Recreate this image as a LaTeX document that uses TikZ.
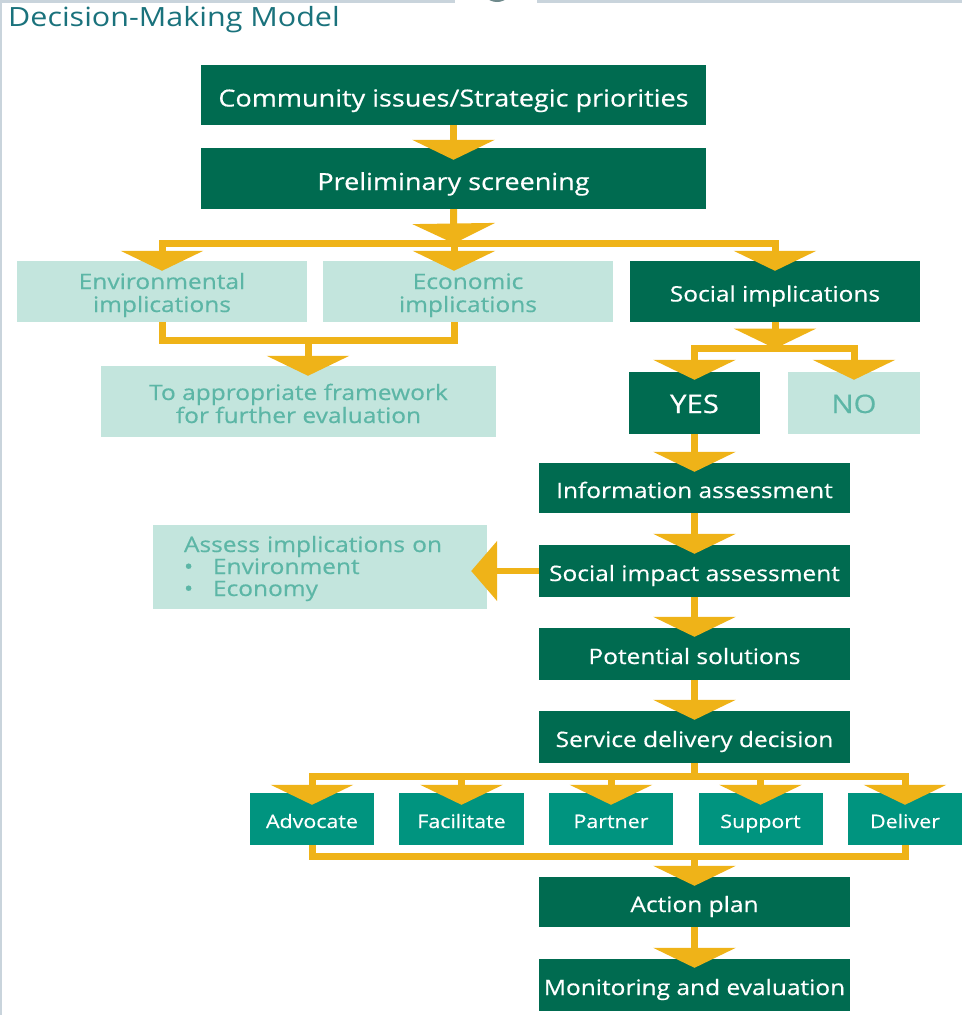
\documentclass[tikz,border=0pt]{standalone}
\usepackage{fontspec}
\setmainfont{Open Sans}[FakeStretch=1.15]
\newfontfamily\heavyfont{Open Sans}[FakeStretch=1.15,FakeBold=0.5]
\usepackage{xcolor}
\usepackage{tikz}
\usetikzlibrary{calc}
\usetikzlibrary{arrows.meta}
\usetikzlibrary{positioning}

\definecolor{deepgreen}{HTML}{006B50}
\definecolor{midteal}{HTML}{00947F}
\definecolor{mint}{HTML}{C3E5DD}
\definecolor{minttext}{HTML}{5CB6A6}
\definecolor{amber}{HTML}{EFB318}
\definecolor{titleteal}{HTML}{1A727C}
\definecolor{rim}{HTML}{C9D4DC}
\definecolor{badge}{HTML}{6F8A8C}

\begin{document}
\begin{tikzpicture}[x=1pt,y=-1pt]
% 1 px = 1 pt, y runs downwards
    \def\TOPFONT{\heavyfont\fontsize{23.5}{26}\selectfont}
    \def\BOXFONT{\heavyfont\fontsize{21.3}{23}\selectfont}
    \def\SMALLFONT{\heavyfont\fontsize{18.6}{20}\selectfont}
    \def\BIGFONT{\heavyfont\fontsize{25.5}{28}\selectfont}
    \def\TITLEFONT{\fontsize{26.5}{28}\selectfont}
    \def\COLX{694.5} % main column
    \def\WIDEW{311pt} % width of main column boxes

    \tikzset{
      box/.style={inner sep=0pt, align=center, minimum height=52pt,
        text height=20pt, text depth=0pt},
      darkbox/.style={box, fill=deepgreen, text=white, font=\BOXFONT},
      midbox/.style={box, fill=midteal, text=white, font=\SMALLFONT,
        minimum width=124pt, text height=18pt},
      lightbox/.style={box, fill=mint, text=minttext, font=\BOXFONT},
      pipe/.style={draw=amber, line width=7pt},
      bar/.style={pipe, line cap=rect},
      flow/.style={pipe, -{Triangle[width=82pt,length=20pt]}},
      sideflow/.style={draw=amber, line width=6pt,
        -{Triangle[width=59pt,length=26pt]}},
    }

    \useasboundingbox (0,0) rectangle (962,1015);

    %frame
    \fill[rim] (0,0) rectangle (455,3);
    \fill[rim] (537,0) rectangle (962,3);
    \fill[rim] (0,0) rectangle (2,1015);
    \fill[badge] (497,-14) circle (16pt);

    \node[anchor=base west, inner sep=0pt, font=\TITLEFONT, text=titleteal]
        (title) at (8,26) {Decision-Making Model};

    % TOP BOXES
    \node[darkbox, minimum width=505pt, minimum height=60pt, font=\TOPFONT,
        text height=23pt] (community) at (453.5,95)
        {Community issues/Strategic priorities};
    \node[darkbox, minimum width=505pt, minimum height=61pt, font=\TOPFONT,
        text height=23pt] (screening) at (453.5,178.5)
        {Preliminary screening};

    % IMPLICATIONS
    \node[lightbox, minimum width=290pt, minimum height=61pt, text height=42pt,
        text depth=1pt] (environmental) at (162,291.5)
        {Environmental\\implications};
    \node[lightbox, minimum width=290pt, minimum height=61pt, text height=42pt,
        text depth=1pt] (economic) at (468,291.5)
        {Economic\\implications};
    \node[darkbox, minimum width=290pt, minimum height=61pt] (social)
        at (775,291.5) {Social implications};
    \node[lightbox, minimum width=395pt, minimum height=71pt,
        text height=44pt, text depth=1pt] (framework) at (298.5,401.5)
        {To appropriate framework\\for further evaluation};

    % YES / NO
    \node[darkbox, minimum width=131pt, minimum height=62pt, font=\BIGFONT]
        (yes) at (\COLX,403) {YES};
    \node[lightbox, minimum width=132pt, minimum height=62pt, font=\BIGFONT]
        (no) at (854,403) {NO};

    % MAIN COLUMN
    \node[darkbox, minimum width=\WIDEW, minimum height=50pt] (information)
        at (\COLX,488) {Information assessment};
    \node[darkbox, minimum width=\WIDEW] (impact)
        at (\COLX,571) {Social impact assessment};
    \node[lightbox, minimum width=334pt, minimum height=84pt, text width=272pt,
        align=left, text height=15pt, text depth=45pt,
        font=\heavyfont\fontsize{21.3}{22}\selectfont] (assess) at (320,567)
        {Assess implications on\\
         \makebox[29pt][l]{\textbullet}Environment\\
         \makebox[29pt][l]{\textbullet}Economy};
    \node[darkbox, minimum width=\WIDEW] (solutions)
        at (\COLX,654) {Potential solutions};
    \node[darkbox, minimum width=\WIDEW] (decision)
        at (\COLX,737) {Service delivery decision};

    % ROLES
    \node[midbox] (advocate) at (312,819) {Advocate};
    \node[midbox, minimum width=125pt] (facilitate) at (461.5,819) {Facilitate};
    \node[midbox] (partner) at (611,819) {Partner};
    \node[midbox] (support) at (760.5,819) {Support};
    \node[midbox, minimum width=114pt] (deliver) at (905,819) {Deliver};

    \node[darkbox, minimum width=\WIDEW, minimum height=50pt] (action)
        at (\COLX,902) {Action plan};
    \node[darkbox, minimum width=\WIDEW] (monitoring)
        at (\COLX,985) {Monitoring and evaluation};

    % ARROWS TOP
    \coordinate (fork1) at (454,243.5);
    \coordinate (econtip) at ([yshift=-10pt]economic.north);
    \draw[flow] (community.south) -- ([yshift=-12pt]screening.north);
    \draw[flow] (screening.south) -- (fork1);
    \draw[bar] (environmental.north |- fork1) -- (social.north |- fork1);
    \draw[flow] (environmental.north |- fork1)
        -- ([yshift=-10pt]environmental.north);
    \draw[flow] (fork1) -- (econtip -| fork1);
    \draw[flow] (social.north |- fork1) -- ([yshift=-10pt]social.north);

    %env + econ to framework
    \coordinate (merge1) at (308,340.5);
    \coordinate (frametip) at ([yshift=-10pt]framework.north);
    \draw[pipe] (environmental.south) |- (merge1)
        -| (economic.south -| fork1);
    \draw[flow] (merge1) -- (merge1 |- frametip);

    %social to yes / no
    \coordinate (fork2) at (775,348.5);
    \draw[flow] (social.south) -- (fork2);
    \draw[bar] (yes.north |- fork2) -- (no.north |- fork2);
    \draw[flow] (yes.north |- fork2) -- ([yshift=-8pt]yes.north);
    \draw[flow] (no.north |- fork2) -- ([yshift=-8pt]no.north);

    % MAIN COLUMN ARROWS
    \draw[flow] (yes.south) -- ([yshift=-9pt]information.north);
    \draw[flow] (information.south) -- ([yshift=-9pt]impact.north);
    \draw[flow] (impact.south) -- ([yshift=-9pt]solutions.north);
    \draw[flow] (solutions.south) -- ([yshift=-9pt]decision.north);

    %side arrow
    \coordinate (assesstip) at ([xshift=-16pt]assess.east);
    \draw[sideflow] (impact.west) -- (impact.west -| assesstip);

    % ROLE ARROWS
    \coordinate (fork3) at (\COLX,776.5);
    \draw[pipe] (decision.south) -- (fork3);
    \draw[bar] (advocate.north |- fork3) -- (deliver.north |- fork3);
    \foreach \role in {advocate,facilitate,partner,support,deliver}
        \draw[flow] (\role.north |- fork3) -- ([yshift=-12pt]\role.north);

    \coordinate (merge2) at (\COLX,856.5);
    \draw[pipe] (advocate.south) |- (merge2) -| (deliver.south);
    \draw[flow] (merge2) -- ([yshift=-9pt]action.north);
    \draw[flow] (action.south) -- ([yshift=-9pt]monitoring.north);

\end{tikzpicture}
\end{document}
